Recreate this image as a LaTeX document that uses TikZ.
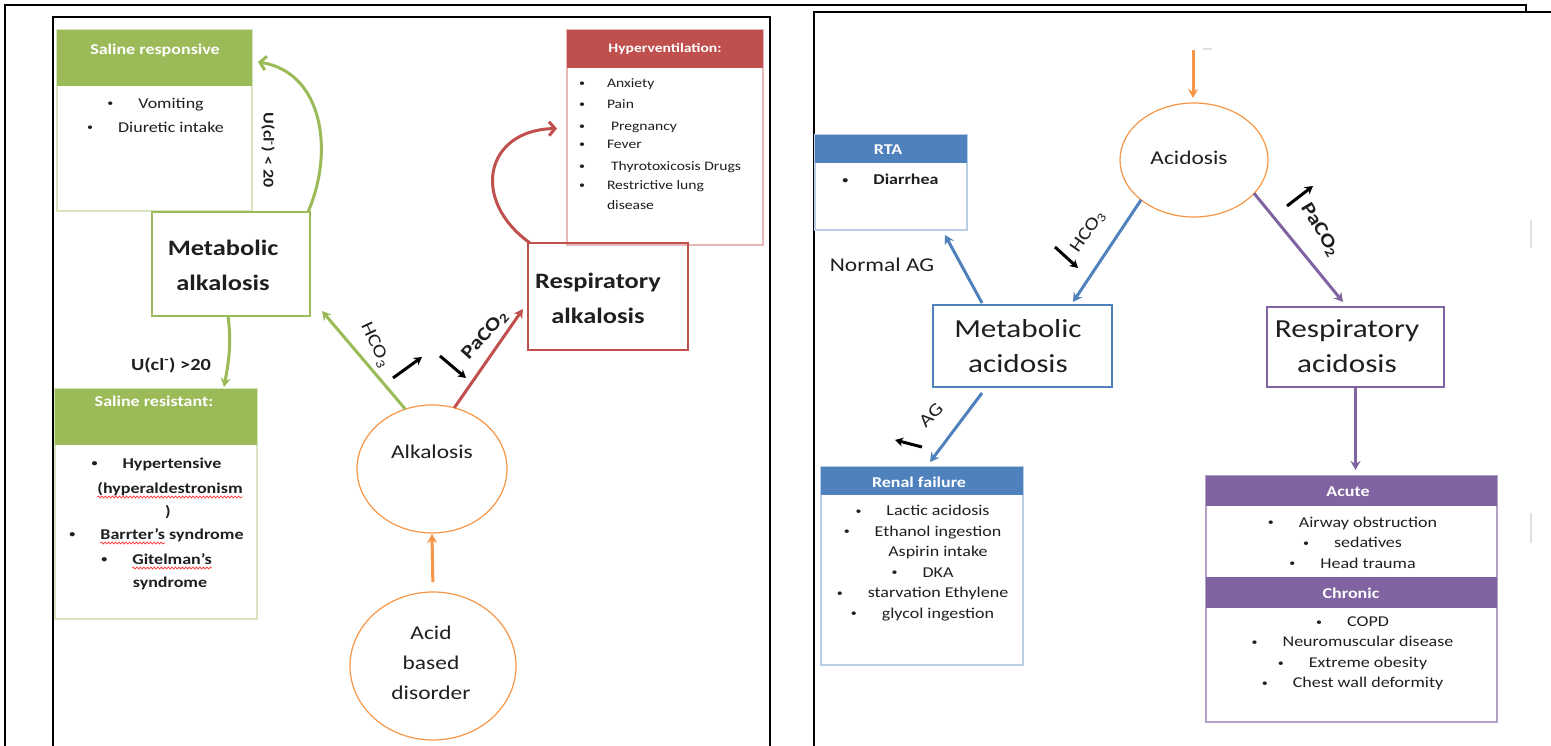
\documentclass[tikz,border=0pt]{standalone}
\usepackage{fontspec}
\setmainfont{Carlito}[FakeStretch=1.2]
\usetikzlibrary{arrows.meta,shapes.geometric,calc,decorations.pathmorphing}
\definecolor{ogreen}{HTML}{9BBB59}
\definecolor{ored}{HTML}{C0504D}
\definecolor{oblue}{HTML}{4F81BD}
\definecolor{opurple}{HTML}{8064A2}
\definecolor{oorange}{HTML}{F79646}
\definecolor{lgreen}{HTML}{D7E4BD}
\definecolor{lred}{HTML}{E6B9B8}
\definecolor{lblue}{HTML}{B9CDE5}
\definecolor{lpurple}{HTML}{B3A2C7}
\definecolor{txt}{HTML}{1F1F1F}
\newcommand\fsz[2]{\fontsize{#1}{#2}\selectfont}
\newcommand\dotb{\raisebox{1.2pt}{\fsz{10}{10}\textbullet}}
\newcommand\bulx{\makebox[8pt]{\dotb}\hspace{24pt}}
\newcommand\lbul{\llap{\makebox[8pt]{\dotb}\hspace{21pt}}}
\begin{document}
\begin{tikzpicture}[x=1pt,y=-1pt,
  every node/.style={inner sep=0pt,outer sep=0pt,text=txt,font={\fsz{15}{20.5}}},
  panel/.style={line width=2pt,draw=black},
  faintmark/.style={line width=1.5pt,draw=black!12},
  bodybox/.style={draw=#1,line width=1.2pt,anchor=north west,fill=white},
  hdrbox/.style={fill=#1,anchor=north west},
  hdrtext/.style={text=white,font={\fsz{15}{18}\bfseries}},
  sline/.style={text height=10pt,text depth=0pt},
  sline2/.style={text height=13pt,text depth=0pt},
  bline/.style={font={\fsz{15}{20}\bfseries},text height=10pt,text depth=0pt},
  item/.style={font={\fsz{15}{20.5}},align=center},
  hvitem/.style={anchor=west,font={\fsz{13}{16}},text height=9pt,text depth=0pt},
  mainbox/.style={draw=#1,line width=2.5pt,anchor=north west},
  bigbold/.style={font={\fsz{22}{35}\bfseries},align=center},
  bigreg/.style={font={\fsz{26}{35}},align=center},
  oval/.style={ellipse,draw=oorange,line width=1.2pt},
  ovaltext/.style={font={\fsz{19.5}{30}},align=center},
  conn/.style={line width=3pt,draw=#1,-{Stealth[length=9pt,width=10pt]}},
  curv/.style={line width=3pt,draw=#1,-{Straight Barb[length=6pt,width=14pt]}},
  updn/.style={line width=3pt,draw=black,-{Stealth[length=8pt,width=9pt]}},
  lbl/.style={font={\fsz{18}{20}}},
  wavy/.style={draw=red!80,line width=0.7pt,decorate,decoration={snake,amplitude=1pt,segment length=3.5pt}}
]
\fill[white] (0,0) rectangle (1551,746);
\useasboundingbox (0,0) rectangle (1551,746);

% frames
\draw[panel] (5,750) -- (5,5) -- (1526,5) -- (1526,12);
\draw[panel] (53,750) -- (53,17) -- (770,17) -- (770,750);
\draw[panel] (814,750) -- (814,12) -- (1555,12);
\draw[faintmark] (1531,220) -- (1531,248);
\draw[faintmark] (1531,513) -- (1531,543);
\draw[faintmark] (1203,49) -- (1212,49);

% ===== left panel =====
\node[bodybox=lgreen,minimum width=195,minimum height=181] (sr) at (57,30) {};
\node[hdrbox=ogreen,minimum width=195,minimum height=56] (srh) at (57,30) {};
\node[hdrtext,sline] (srt) at (155,50) {Saline responsive};
\node[align=center,font={\fsz{15}{24}}] (srl) at (155,115) {\bulx Vomiting\\\bulx Diuretic intake};

\node[bodybox=lgreen,minimum width=202,minimum height=230] (srs) at (55,389) {};
\node[hdrbox=ogreen,minimum width=202,minimum height=56] (srsh) at (55,389) {};
\node[hdrtext,sline] (srst) at (154,401) {Saline resistant:};
\node[bline] (srs1) at (156,463) {\bulx Hypertensive};
\node[bline] (srs2) at (170,488) {(hyperaldestronism};
\node[bline] (srs3) at (168,511) {)};
\node[bline] (srs4) at (156,534) {\bulx Barrter’s syndrome};
\node[bline] (srs5) at (156,559) {\bulx Gitelman’s};
\node[bline] (srs6) at (170,582) {syndrome};
\draw[wavy] ($(srs2.south west)+(0,4)$) -- ($(srs2.south east)+(0,4)$);
\draw[wavy] ($(srs4.south west)+(32,4)$) -- ($(srs4.south west)+(97,4)$);
\draw[wavy] ($(srs5.south west)+(32,4)$) -- ($(srs5.south east)+(0,4)$);

\node[bodybox=lred,minimum width=196,minimum height=215] (hv) at (567,30) {};
\node[hdrbox=ored,minimum width=196,minimum height=38] (hvh) at (567,30) {};
\node[hdrtext,font={\fsz{13}{16}\bfseries},text height=9pt,text depth=0pt] (hvt) at (665,48) {Hyperventilation:};
\node[hvitem] (hv1) at (607,83) {\lbul Anxiety};
\node[hvitem] (hv2) at (607,104) {\lbul Pain};
\node[hvitem] (hv3) at (607,126) {\lbul\hspace{4pt}Pregnancy};
\node[hvitem] (hv4) at (607,144) {\lbul Fever};
\node[hvitem] (hv5) at (607,166) {\lbul\hspace{4pt}Thyrotoxicosis Drugs};
\node[hvitem] (hv6) at (607,185) {\lbul Restrictive lung};
\node[hvitem] (hv7) at (607,205) {disease};

\node[mainbox=ored,minimum width=160,minimum height=107] (ra) at (528,243) {};
\node[bigbold] (rat) at (598,298) {Respiratory\\alkalosis};
\node[mainbox=ogreen,minimum width=158,minimum height=104] (ma) at (152,212) {};
\node[bigbold] (mat) at (223,265) {Metabolic\\alkalosis};
\node[oval,minimum width=150,minimum height=128] (alk) at (432,469) {};
\node[ovaltext,sline2] (alkt) at (432,452) {Alkalosis};
\node[oval,minimum width=166,minimum height=148] (abd) at (433,666) {};
\node[ovaltext] (abdt) at (431,663) {Acid\\based\\disorder};

\draw[conn=oorange,shorten <=10pt,shorten >=1pt] (abd.north) -- (alk.south);
\draw[conn=ogreen] (alk.114) -- ($(ma.south east)+(12,-5)$);
\draw[conn=ored] (alk.70) -- ($(ra.south west)+(-5,-41)$);
\draw[curv=ored] ($(ra.north west)+(2,0)$) .. controls (470,200) and (485,130) .. ($(hv.west)+(-10,-9)$);
\draw[curv=ogreen] ($(ma.north east)+(-2,0)$) .. controls (335,150) and (322,72) .. ($(sr.north east)+(6,32)$);
\draw[conn=ogreen] ($(ma.south)+(-3,0)$) .. controls (232,345) and (228,365) .. ($(srs.north)+(68,-2)$);

\node[lbl,rotate=-65] (hco1) at (375,345) {HCO\textsubscript{3}};
\node[font={\fsz{19}{20}\bfseries},rotate=48] (pac1) at (485,335) {PaCO\textsubscript{2}};
\node[font={\fsz{15}{18}\bfseries},rotate=-90] (ucl1) at (268,150) {U(cl\textsuperscript{-}) < 20};
\node[font={\fsz{17}{20}\bfseries}] (ucl2) at (171,365) {U(cl\textsuperscript{-}) >20};

\coordinate (b1a) at (393,378); \coordinate (b1b) at (422,357);
\coordinate (b2a) at (440,356); \coordinate (b2b) at (466,378);
\draw[updn] (b1a) -- (b1b);
\draw[updn] (b2a) -- (b2b);

% ===== right panel =====
\coordinate (acidin) at (1193,50);
\node[oval,minimum width=148,minimum height=114] (acid) at (1194,160) {};
\node[ovaltext,sline2] (acidt) at (1189,158) {Acidosis};
\draw[conn=oorange,shorten >=5pt] (acidin) -- (acidin |- acid.north);

\node[bodybox=lblue,minimum width=152,minimum height=95] (rta) at (815,135) {};
\node[hdrbox=oblue,minimum width=152,minimum height=28] (rtah) at (815,135) {};
\node[hdrtext,sline] (rtat) at (888,150) {RTA};
\node[bline] (rtal) at (890,180) {\bulx Diarrhea};
\node[ovaltext,sline2] (nag) at (882,265) {Normal AG};

\node[mainbox=oblue,minimum width=179,minimum height=82] (mac) at (933,305) {};
\node[bigreg] (mact) at (1018,346) {Metabolic\\acidosis};
\node[mainbox=opurple,line width=1.5pt,minimum width=177,minimum height=80] (rac) at (1267,307) {};
\node[bigreg] (ract) at (1347,346) {Respiratory\\acidosis};

\node[bodybox=lblue,minimum width=202,minimum height=198] (rf) at (821,467) {};
\node[hdrbox=oblue,minimum width=202,minimum height=28] (rfh) at (821,467) {};
\node[hdrtext,sline] (rft) at (919,482) {Renal failure};
\node[item] (rfl) at (922,563) {\bulx Lactic acidosis\\\bulx Ethanol ingestion\\\hspace*{32pt}Aspirin intake\\\bulx DKA\\\bulx starvation Ethylene\\\bulx glycol ingestion};

\node[bodybox=lpurple,minimum width=291,minimum height=246] (ac) at (1206,476) {};
\node[hdrbox=opurple,minimum width=291,minimum height=30] (ach) at (1206,476) {};
\node[hdrtext,sline] (act) at (1348,491) {Acute};
\node[item] (acl) at (1352,542.5) {\bulx Airway obstruction\\\bulx sedatives\\\bulx Head trauma};
\node[hdrbox=opurple,minimum width=291,minimum height=31] (chh) at (1206,577) {};
\node[hdrtext,sline] (cht) at (1351,593) {Chronic};
\node[item] (chl) at (1352,653.5) {\bulx COPD\\\bulx Neuromuscular disease\\\bulx Extreme obesity\\\bulx Chest wall deformity};

\draw[conn=oblue] ($(mac.north west)+(49,-2)$) -- ($(rta.south east)+(-22,5)$);
\draw[conn=oblue] (acid.217) -- ($(mac.north west)+(140,-3)$);
\draw[conn=oblue] ($(mac.south west)+(49,6)$) -- ($(rf.north west)+(109,-5)$);
\draw[conn=opurple] (acid.-29) -- ($(rac.north west)+(76,-5)$);
\draw[conn=opurple,shorten >=6pt] (rac.south) -- (rac.south |- ac.north);

\node[lbl,rotate=55] (hco2) at (1088,232) {HCO\textsubscript{3}};
\node[font={\fsz{19}{20}\bfseries},rotate=-59] (pac2) at (1320,230) {PaCO\textsubscript{2}};
\node[lbl,rotate=45] (ag) at (931,415) {AG};

\coordinate (b3a) at (1055,247); \coordinate (b3b) at (1078,268);
\coordinate (b4a) at (1287,206); \coordinate (b4b) at (1313,186);
\coordinate (b5a) at (922,447); \coordinate (b5b) at (895,440);
\draw[updn] (b3a) -- (b3b);
\draw[updn] (b4a) -- (b4b);
\draw[updn] (b5a) -- (b5b);
\end{tikzpicture}
\end{document}
